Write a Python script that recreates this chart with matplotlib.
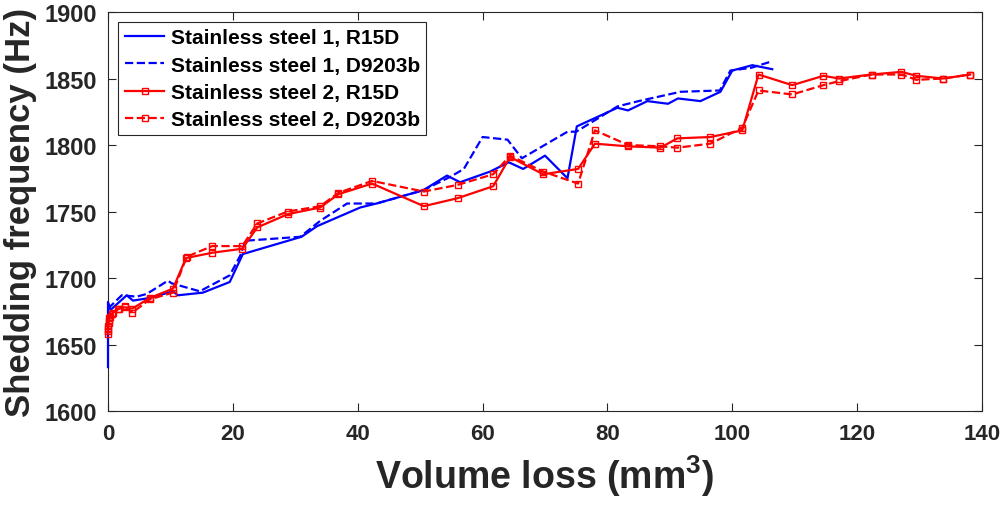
import numpy as np
import matplotlib
matplotlib.use("Agg")
import matplotlib.pyplot as plt

# ---------------- data: volume loss (mm^3) vs shedding frequency (Hz) ----------------
ss1_r15d_x = [0, 0, 0.4, 3, 4, 6.7, 10.4, 11.2, 15.2, 19.5, 21.6, 31, 33.5, 40.4, 43, 50.5,
              54.3, 56.4, 61.2, 64.2, 66.5, 70, 73.6, 75.1, 81.6, 83.3, 86.4, 89.7, 91.3,
              94.9, 98.1, 100, 103.2, 106.4]
ss1_r15d_y = [1633, 1682, 1676, 1687, 1683, 1685, 1690, 1687, 1689, 1697, 1718, 1731, 1739,
              1753, 1756, 1766, 1777, 1772, 1780, 1787, 1782, 1792, 1775, 1814, 1828, 1826,
              1833, 1831, 1835, 1833, 1840, 1856, 1860, 1857]

ss1_d9203b_x = [0, 2.2, 4.6, 6.2, 9.6, 10.2, 14.7, 19.5, 21.2, 22, 30.8, 34, 38.3, 43, 50.5,
                54.8, 57, 60, 64, 66.3, 73.6, 75, 81.6, 85, 91.7, 98, 99.7, 103, 106.4]
ss1_d9203b_y = [1677, 1687, 1686, 1688, 1698, 1696, 1690, 1702, 1717, 1728, 1731, 1743, 1756,
                1756, 1766, 1776, 1782, 1806, 1804, 1790, 1810, 1810, 1829, 1833, 1840, 1841,
                1856, 1858, 1863]

ss2_r15d_x = [0, 0, 0.1, 0.2, 0.6, 1.6, 2.7, 3.9, 6.7, 10.4, 12.5, 16.7, 21.5, 23.9, 28.8,
              34, 36.9, 42.3, 50.6, 56, 61.7, 64.4, 69.7, 75.3, 78, 83.3, 88.5, 91.2, 96.5,
              101.6, 104.2, 109.6, 114.6, 117.1, 122.3, 127.1, 129.5, 133.8, 138.1]
ss2_r15d_y = [1658, 1662, 1666, 1670, 1673, 1677, 1678, 1677, 1685, 1692, 1715, 1719, 1722,
              1738, 1748, 1753, 1763, 1771, 1754, 1760, 1769, 1791, 1778, 1782, 1801, 1799,
              1798, 1805, 1806, 1811, 1853, 1845, 1852, 1850, 1853, 1855, 1852, 1850, 1853]

ss2_d9203b_x = [0, 0, 0.1, 0.3, 0.8, 1.8, 2.7, 3.9, 6.7, 10.4, 12.6, 16.7, 21.5, 23.9, 28.8,
                34, 36.9, 42.3, 50.6, 56, 61.7, 64.4, 69.7, 75.3, 78, 83.3, 88.5, 91.2, 96.5,
                101.6, 104.2, 109.6, 114.6, 117.1, 122.3, 127.1, 129.5, 133.8, 138.1]
ss2_d9203b_y = [1660, 1664, 1668, 1671, 1674, 1677, 1679, 1674, 1684, 1689, 1716, 1724, 1724,
                1741, 1750, 1754, 1764, 1773, 1765, 1770, 1778, 1792, 1780, 1771, 1811, 1800,
                1799, 1798, 1801, 1813, 1841, 1838, 1845, 1848, 1853, 1853, 1849, 1850, 1853]

labels = ["Stainless steel 1, R15D", "Stainless steel 1, D9203b",
          "Stainless steel 2, R15D", "Stainless steel 2, D9203b"]

# ---------------- style ----------------
plt.rcParams["font.family"] = ["Liberation Sans", "DejaVu Sans"]
plt.rcParams["font.weight"] = "bold"
plt.rcParams["mathtext.fontset"] = "custom"
plt.rcParams["mathtext.rm"] = "Liberation Sans:bold"
plt.rcParams["mathtext.bf"] = "Liberation Sans:bold"
axcol = "#262626"

fig = plt.figure(figsize=(10.04, 5.06), dpi=100)
ax = fig.add_axes([108 / 1004, 94 / 506, 874 / 1004, 399 / 506])

# lines sit above the spines so the x=0 segments stay visible
ax.plot(ss1_r15d_x, ss1_r15d_y, "-", color="blue", lw=1.6, label=labels[0],
        zorder=3, clip_on=False)
ax.plot(ss1_d9203b_x, ss1_d9203b_y, "--", color="blue", lw=1.6, label=labels[1],
        zorder=3, clip_on=False)
ax.plot(ss2_r15d_x, ss2_r15d_y, "-s", color="red", lw=1.6, ms=5, mfc="none", mew=1.0,
        label=labels[2], zorder=3, clip_on=False)
ax.plot(ss2_d9203b_x, ss2_d9203b_y, "--s", color="red", lw=1.6, ms=5, mfc="none", mew=1.0,
        label=labels[3], zorder=3, clip_on=False)

ax.set_xlim(0, 140)
ax.set_ylim(1600, 1900)
ax.set_xticks(np.arange(0, 141, 20))
ax.set_yticks(np.arange(1600, 1901, 50))

ax.tick_params(direction="in", top=True, right=True, length=6, width=0.8, colors=axcol,
               labelsize=17, pad=8)
ax.tick_params(axis="x", labelsize=16, pad=9)
for sp in ax.spines.values():
    sp.set_color(axcol)
    sp.set_linewidth(0.8)

ax.set_ylabel("Shedding frequency (Hz)", fontsize=25, fontweight="bold", color=axcol,
              labelpad=5)
ax.set_xlabel(r"Volume loss (mm$^{\mathbf{3}}$)", fontsize=27, fontweight="bold",
              color=axcol, labelpad=6)

leg = ax.legend(loc="upper left", bbox_to_anchor=(0.012, 0.975), fontsize=15,
                numpoints=1, handlelength=1.9, handletextpad=0.3, borderpad=0.3,
                labelspacing=0.4, fancybox=False, framealpha=1, markerscale=0.8,
                borderaxespad=0)
leg.get_frame().set_edgecolor(axcol)
leg.get_frame().set_linewidth(0.8)
leg.set_zorder(5)

fig.savefig("out.png", dpi=100)
